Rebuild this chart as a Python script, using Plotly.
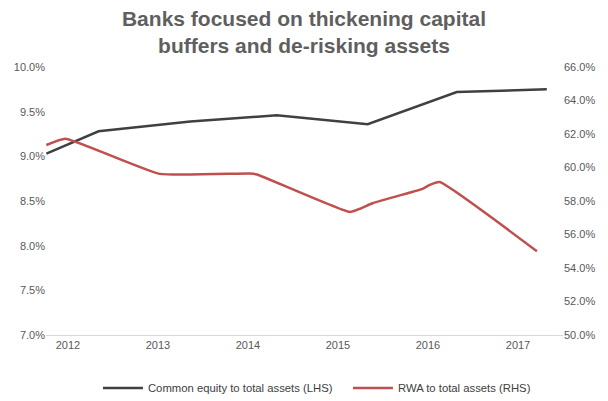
import plotly.graph_objects as go

# Data (dates as fractional years)
equity_x = [2011.76, 2012.34, 2013.36, 2014.32, 2015.33, 2016.32, 2017.32]
equity_y = [9.03, 9.28, 9.39, 9.46, 9.36, 9.72, 9.75]

rwa_x = [2011.76, 2011.97, 2013.02, 2014.02, 2014.1, 2015.13, 2015.25, 2015.39, 2015.94, 2016.02, 2016.13, 2017.21]
rwa_y = [61.34, 61.72, 59.62, 59.64, 59.58, 57.34, 57.55, 57.88, 58.72, 58.96, 59.13, 55.0]

years = [2012, 2013, 2014, 2015, 2016, 2017]
left_ticks = [7.0, 7.5, 8.0, 8.5, 9.0, 9.5, 10.0]
right_ticks = [50, 52, 54, 56, 58, 60, 62, 64, 66]

grey = "#595959"
font = "Liberation Sans, Arial, sans-serif"

fig = go.Figure()
fig.add_trace(go.Scatter(
    x=equity_x, y=equity_y, mode="lines",
    name="Common equity to total assets (LHS)",
    line=dict(color="#404040", width=2.5),
    yaxis="y", hoverinfo="skip"))
fig.add_trace(go.Scatter(
    x=rwa_x, y=rwa_y, mode="lines",
    name="RWA to total assets (RHS)",
    line=dict(color="#c0504d", width=2.5, shape="spline", smoothing=0.4),
    yaxis="y2", hoverinfo="skip"))

fig.update_layout(
    width=608, height=401,
    margin=dict(l=46, r=45, t=67, b=66, autoexpand=False),
    paper_bgcolor="white", plot_bgcolor="white",
    font=dict(family=font, size=11, color=grey),
    title=dict(
        text="Banks focused on thickening capital<br>buffers and de-risking assets",
        x=0.5, xanchor="center", y=0.935, yanchor="middle",
        font=dict(family=font, size=21, color="#5f5f5f", weight="bold")),
    showlegend=True,
    legend=dict(orientation="h", x=0.1005, xanchor="left", y=-0.198, yanchor="middle",
                font=dict(size=11.3, color="#404040"), itemwidth=40,
                entrywidth=195, traceorder="normal"),
    xaxis=dict(
        range=[2011.756, 2017.5], tickvals=years, ticktext=[str(y) for y in years],
        showgrid=False, zeroline=False, showline=True, linecolor="#d9d9d9", linewidth=1,
        ticks="", tickfont=dict(size=11, color=grey)),
    yaxis=dict(
        range=[7, 10], tickvals=left_ticks,
        ticktext=[f"{v:.1f}%" for v in left_ticks],
        showgrid=False, zeroline=False, showline=False, ticks="",
        tickfont=dict(size=11, color=grey)),
    yaxis2=dict(
        range=[50, 66], tickvals=right_ticks,
        ticktext=[f"{v:.1f}%" for v in right_ticks],
        overlaying="y", side="right",
        showgrid=False, zeroline=False, showline=False, ticks="",
        tickfont=dict(size=11, color=grey)),
)

fig.write_html("out.html")
